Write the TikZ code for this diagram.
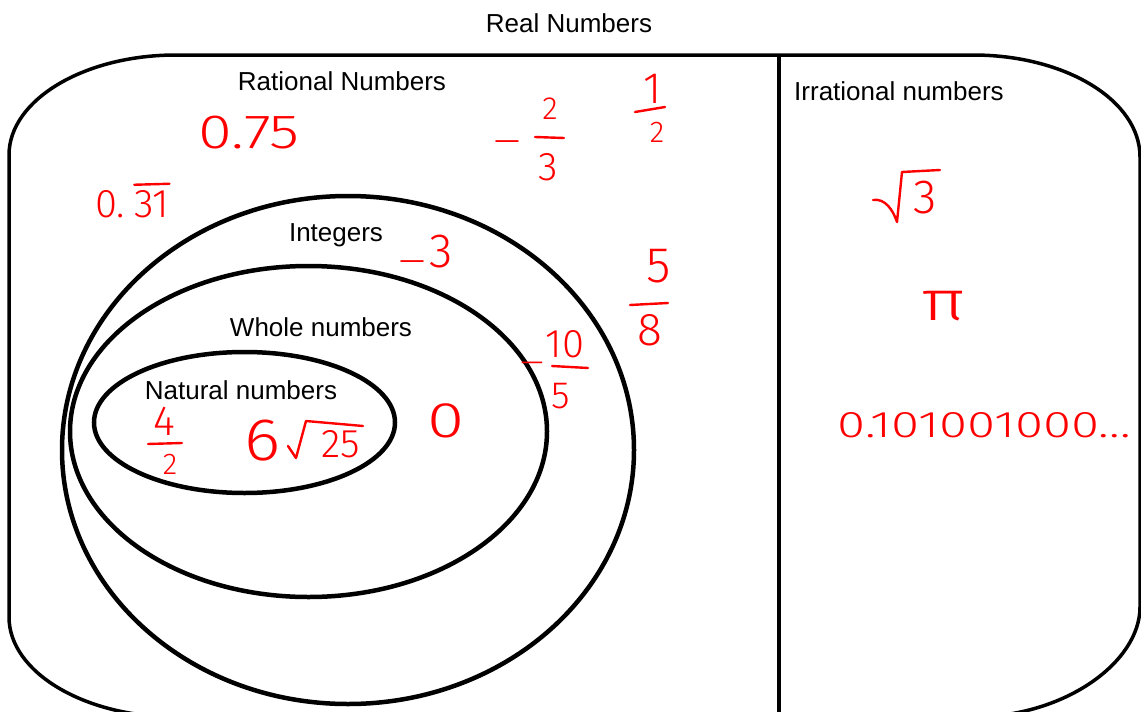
\documentclass[tikz,border=0pt]{standalone}
\usepackage{fontspec}
\setmainfont{Liberation Sans}
\IfFontExistsTF{Fira Sans Light}
  {\newfontfamily\hwfont{Fira Sans Light}}
  {\newfontfamily\hwfont{Liberation Sans}}
\newcommand\wideminus{\scalebox{1.8}[1]{−}}
\tikzset{
  lbl/.style={font=\fontsize{26}{30}\selectfont, anchor=base, inner sep=0pt, text=black},
  hw/.style={text=red, font=\hwfont\fontsize{#1}{#1}\selectfont, anchor=base, inner sep=0pt},
  hw/.default=36,
  hwline/.style={draw=red, line width=2.4pt, line cap=round, line join=round},
  setline/.style={draw=black, line width=4.5pt},
  frameline/.style={draw=black, line width=3.5pt},
}
\begin{document}
\begin{tikzpicture}[x=1pt,y=-1pt]
\useasboundingbox (0,0) rectangle (1141,712);
\clip (0,0) rectangle (1141,712);
\fill[white] (0,0) rectangle (1141,712);

% outer frame (real numbers)
\draw[frameline] (176,55) -- (973,55)
  .. controls (1065,55) and (1140,100) .. (1140,157) -- (1140,607)
  .. controls (1140,662) and (1065,717) .. (973,717) -- (176,717)
  .. controls (84,717) and (9,672) .. (9,617) -- (9,155)
  .. controls (9,100) and (84,55) .. (176,55) -- cycle;
\draw[frameline] (779,55) -- (779,717);

% sets
\draw[setline] (348,450) ellipse [x radius=286, y radius=254];
\draw[setline] (308.5,431.5) ellipse [x radius=238.5, y radius=165.5];
\draw[setline] (244.5,422.5) ellipse [x radius=150.5, y radius=70.5];

% labels
\node[lbl] (real) at (569,32) {Real Numbers};
\node[lbl] (rational) at (342,90) {Rational Numbers};
\node[lbl] (irrational) at (899,100.5) {Irrational numbers};
\node[lbl] (integers) at (336,241) {Integers};
\node[lbl] (whole) at (321,336) {Whole numbers};
\node[lbl] (natural) at (241,399) {Natural numbers};

% rational examples
\node[hw=48] (q075) at (249,148) {\scalebox{1.28}[1]{0.75}};
\node[hw=40, anchor=base west] (q0) at (95,217) {0.};
\node[hw=40, anchor=base west] (q31) at ([xshift=9pt]q0.base east) {31};
\draw[hwline] ([yshift=5pt]q31.north west) -- ([yshift=6pt]q31.north east);

\node[hw=36] (m23) at (507,153) {\wideminus};
\node[hw=32] (n2) at (550,119) {2};
\draw[hwline] (535,137) -- (564,138);
\node[hw=40] (d3) at (548,180) {3};

\node[hw=44] (n1) at (653,103) {1};
\draw[hwline] (635,112) -- (665,107);
\node[hw=30] (d2) at (657,142) {2};

\node[hw=36] (m3) at (412,273) {\wideminus};
\node[hw=48] (i3) at (441,267) {3};

\node[hw=50] (n5) at (659,282) {5};
\draw[hwline] (630,305) -- (668,303);
\node[hw=46] (d8) at (650,345) {8};

\node[hw=32] (m105) at (532,373) {\wideminus};
\node[hw=40] (n10) at (565,357) {10};
\draw[hwline] (552,366) -- (588,368);
\node[hw=38] (d5) at (561,408) {5};

\node[hw=50] (w0) at (446,437) {\scalebox{1.35}[1]{0}};

% natural examples
\node[hw=42] (n4) at (164,435) {4};
\draw[hwline] (148,444) -- (182,443);
\node[hw=30] (d2b) at (170,474) {2};

\node[hw=60] (six) at (263,460) {\scalebox{1.15}[1]{6}};
\draw[hwline] (288,446) -- (296,458) -- (306,421) -- (363,426);
\node[hw=40] (r25) at (341,457) {25};

% irrational examples
\draw[hwline] (873,200) .. controls (885,198) and (893,210) .. (897,222) -- (902,172) -- (940,170);
\node[hw=48] (r3) at (925,213) {3};
\node[hw=56] (pi) at (944,320) {\scalebox{1.35}[1]{π}};
\node[hw=37] (dec) at (984,437) {\scalebox{1.38}[1]{0.101001000...}};
\end{tikzpicture}
\end{document}
